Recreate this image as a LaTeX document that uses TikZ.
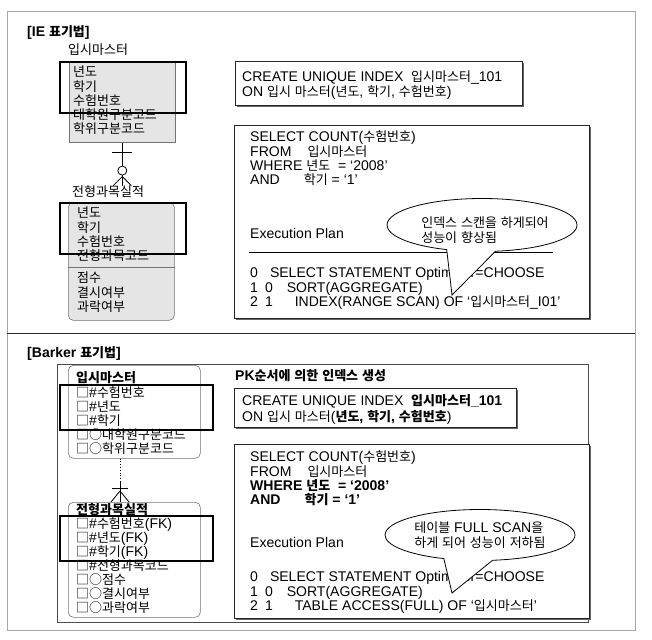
\documentclass[tikz,border=0pt]{standalone}
\usepackage{fontspec}
\setmainfont{Liberation Sans}[Scale=1.08]
\newfontfamily\krfont{Noto Sans CJK KR}
\usetikzlibrary{positioning, calc, shapes.geometric, shapes.callouts, shadows}

% Hangul syllables and the box/circle marks are set in the Korean face
\XeTeXinterchartokenstate=1
\newXeTeXintercharclass\krclass
\count255="AC00
\loop
  \XeTeXcharclass\count255=\krclass
  \ifnum\count255<"D7A3
  \advance\count255 by 1
\repeat
\XeTeXcharclass"25A1=\krclass
\XeTeXcharclass"25CB=\krclass
\XeTeXinterchartoks 0 \krclass = {\krfont}
\XeTeXinterchartoks 4095 \krclass = {\krfont}
\XeTeXinterchartoks \krclass 0 = {\rmfamily}
\XeTeXinterchartoks \krclass 4095 = {\rmfamily}

\newcommand\dsize{\fontsize{13}{14.2}\selectfont}
\newcommand\fst{\rule{0pt}{11.5pt}}

\begin{document}
\begin{tikzpicture}[
    x=1pt, y=-1pt,
    font=\dsize,
    % Frames
    panel/.style={rectangle, draw=black!35, line width=0.9pt, anchor=north west, inner sep=0pt},
    divider/.style={draw=black!85, line width=1pt},
    % Entity boxes and key marks
    entity/.style={rectangle, draw=black!55, fill=black!10, line width=0.6pt, anchor=north west, inner sep=0pt},
    bentity/.style={entity, fill=white, rounded corners=5pt},
    keybox/.style={rectangle, draw=black, line width=1.7pt, anchor=north west, inner sep=0pt},
    rel/.style={draw=black, line width=0.8pt},
    % SQL boxes and texts
    sqlbox/.style={rectangle, draw=black!85, fill=white, line width=0.8pt, anchor=north west, inner sep=0pt,
        drop shadow={shadow xshift=1.4pt, shadow yshift=-1.4pt, fill=black!60, opacity=1}},
    cols/.style={anchor=north west, align=left, inner sep=0pt},
    lbl/.style={anchor=west, inner sep=0pt},
    bubble/.style={ellipse callout, draw=black, fill=white, line width=0.8pt, callout pointer arc=30}
]
\useasboundingbox (0,0) rectangle (652,639);

% --- Frame ---
\node[panel, minimum width=628, minimum height=619] (frame) at (7,11) {};
\coordinate (divL) at (7,333);
\coordinate (divR) at (635,333);
\draw[divider] (divL) -- (divR);

% --- IE notation ---
\node[lbl, font=\dsize\bfseries] (ieTitle) at (27,32) {[IE 표기법]};
\node[lbl] (ieMasterName) at (68,50) {입시마스터};
\node[entity, minimum width=106, minimum height=80] (ieMaster) at (69,62) {};
\node[keybox, minimum width=126, minimum height=51] (ieMasterKey) at (59,61) {};
\node[cols] (ieMasterCols) at (73,65.2) {\fst 년도\\학기\\수험번호\\대학원구분코드\\학위구분코드};

\node[lbl] (ieResultName) at (72,192) {전형과목실적};
\node[entity, rounded corners=5pt, minimum width=106, minimum height=118] (ieResult) at (68,202) {};
\draw[draw=black!55, line width=0.6pt] ($(ieResult.north west)+(0,65)$) -- ($(ieResult.north east)+(0,65)$);
\node[keybox, minimum width=126, minimum height=51] (ieResultKey) at (59,202) {};
\node[cols] (ieResultCols) at (77,206.2) {\fst 년도\\학기\\수험번호\\전형과목코드};
\node[cols] (ieResultAttr) at (77,271.2) {\fst 점수\\결시여부\\과락여부};

% relationship: one and only one to zero or many
\coordinate (ieFoot) at ($(ieMaster.south)+(0,43)$);
\draw[rel] (ieMaster.south) -- (ieFoot);
\draw[rel] ($(ieMaster.south)+(-10,10)$) -- ($(ieMaster.south)+(10,10)$);
\draw[rel, fill=white] ($(ieMaster.south)+(0,28)$) circle (4.5pt);
\draw[rel] ($(ieMaster.south)+(0,34)$) -- ($(ieFoot)+(-9,0)$)
           ($(ieMaster.south)+(0,34)$) -- ($(ieFoot)+(9,0)$);

% SQL and plan
\node[sqlbox, minimum width=287, minimum height=44] (ieCreate) at (235,61) {};
\node[cols] (ieCreateText) at (242,70.2) {\fst CREATE UNIQUE INDEX\ \ 입시마스터\_101\\ON 입시 마스터(년도, 학기, 수험번호)};
\node[sqlbox, minimum width=355, minimum height=193] (ieSelect) at (234,125) {};
\node[cols] (ieQuery) at (250,130.2) {\fst SELECT COUNT(수험번호)\\FROM\hspace{16pt}입시마스터\\WHERE 년도\ \ = `2008'\\AND\hspace{24pt}학기 = `1'};
\node[lbl] (iePlanHead) at (250,233) {Execution Plan};
\coordinate (ieRuleL) at (249,252);
\coordinate (ieRuleR) at (553,252);
\draw[line width=0.9pt] (ieRuleL) -- (ieRuleR);
\node[cols] (iePlan) at (250,266.2) {\fst 0\hspace{12pt}SELECT STATEMENT Optimizer=CHOOSE\\1\hspace{7pt}0\hspace{14pt}SORT(AGGREGATE)\\2\hspace{7pt}1\hspace{22pt}INDEX(RANGE SCAN) OF `입시마스터\_I01'};
\coordinate (ieTip) at (452,295);
\node[bubble, minimum width=190, minimum height=53, callout absolute pointer={(ieTip)}] (ieNote) at (482,225) {};
\node[cols, anchor=center] (ieNoteText) at (485,230) {인덱스 스캔을 하게되어\\[1.5pt]성능이 향상됨};

% --- Barker notation ---
\node[lbl, font=\dsize\bfseries] (bkTitle) at (27,353) {[Barker 표기법]};
\node[rectangle, draw=black!70, line width=0.7pt, anchor=north west, minimum width=531, minimum height=258, inner sep=0pt] (bkFrame) at (57,364) {};
\node[bentity, minimum width=132, minimum height=93] (bkMaster) at (68,365) {};
\node[keybox, minimum width=153, minimum height=45] (bkMasterKey) at (59,384) {};
\node[cols] (bkMasterCols) at (76,371.2) {\fst{\bfseries 입시마스터}\\□\#수험번호\\□\#년도\\□\#학기\\□○대학원구분코드\\□○학위구분코드};

\node[bentity, minimum width=132, minimum height=115] (bkResult) at (68,502) {};
\node[keybox, minimum width=153, minimum height=45] (bkResultKey) at (59,515) {};
\node[cols, font=\fontsize{13}{13.9}\selectfont] (bkResultCols) at (76,503.2) {\fst{\bfseries 전형과목실적}\\□\#수험번호(FK)\\□\#년도(FK)\\□\#학기(FK)\\□\#전형과목코드\\□○점수\\□○결시여부\\□○과락여부};

% relationship: optional one to many
\coordinate (bkRelTop) at ($(bkMaster.south west)+(52,0)$);
\coordinate (bkRelMid) at ($(bkRelTop)+(0,23)$);
\coordinate (bkRelEnd) at ($(bkResult.north west)+(52,0)$);
\draw[rel, dotted, line width=1pt] (bkRelTop) -- (bkRelMid);
\draw[rel] (bkRelMid) -- (bkRelEnd);
\draw[rel] ($(bkRelMid)+(-8,7)$) -- ($(bkRelMid)+(8,7)$);
\draw[rel] ($(bkRelEnd)+(0,-11)$) -- ($(bkRelEnd)+(-9,0)$)
           ($(bkRelEnd)+(0,-11)$) -- ($(bkRelEnd)+(9,0)$);

% SQL and plan
\node[lbl, font=\dsize\bfseries] (bkPkNote) at (235,376) {PK순서에 의한 인덱스 생성};
\node[sqlbox, minimum width=282, minimum height=39] (bkCreate) at (234,388) {};
\node[cols] (bkCreateText) at (242,394.2) {\fst CREATE UNIQUE INDEX\ \ {\bfseries 입시마스터\_101}\\[1.5pt]ON 입시 마스터({\bfseries 년도, 학기, 수험번호})};
\node[sqlbox, minimum width=355, minimum height=174] (bkSelect) at (234,444) {};
\node[cols] (bkQuery) at (250,450.2) {\fst SELECT COUNT(수험번호)\\FROM\hspace{16pt}입시마스터\\{\bfseries WHERE 년도\ \ = `2008'}\\{\bfseries AND\hspace{24pt}학기 = `1'}};
\node[lbl] (bkPlanHead) at (250,542) {Execution Plan};
\node[cols] (bkPlan) at (250,570.2) {\fst 0\hspace{12pt}SELECT STATEMENT Optimizer=CHOOSE\\1\hspace{7pt}0\hspace{14pt}SORT(AGGREGATE)\\2\hspace{7pt}1\hspace{22pt}TABLE ACCESS(FULL) OF `입시마스터'};
\coordinate (bkTip) at (452,593);
\node[bubble, minimum width=190, minimum height=51, callout absolute pointer={(bkTip)}] (bkNote) at (480,535) {};
\node[cols, anchor=center] (bkNoteText) at (480,535) {테이블 FULL SCAN을\\[1.5pt]하게 되어 성능이 저하됨};
\end{tikzpicture}
\end{document}
